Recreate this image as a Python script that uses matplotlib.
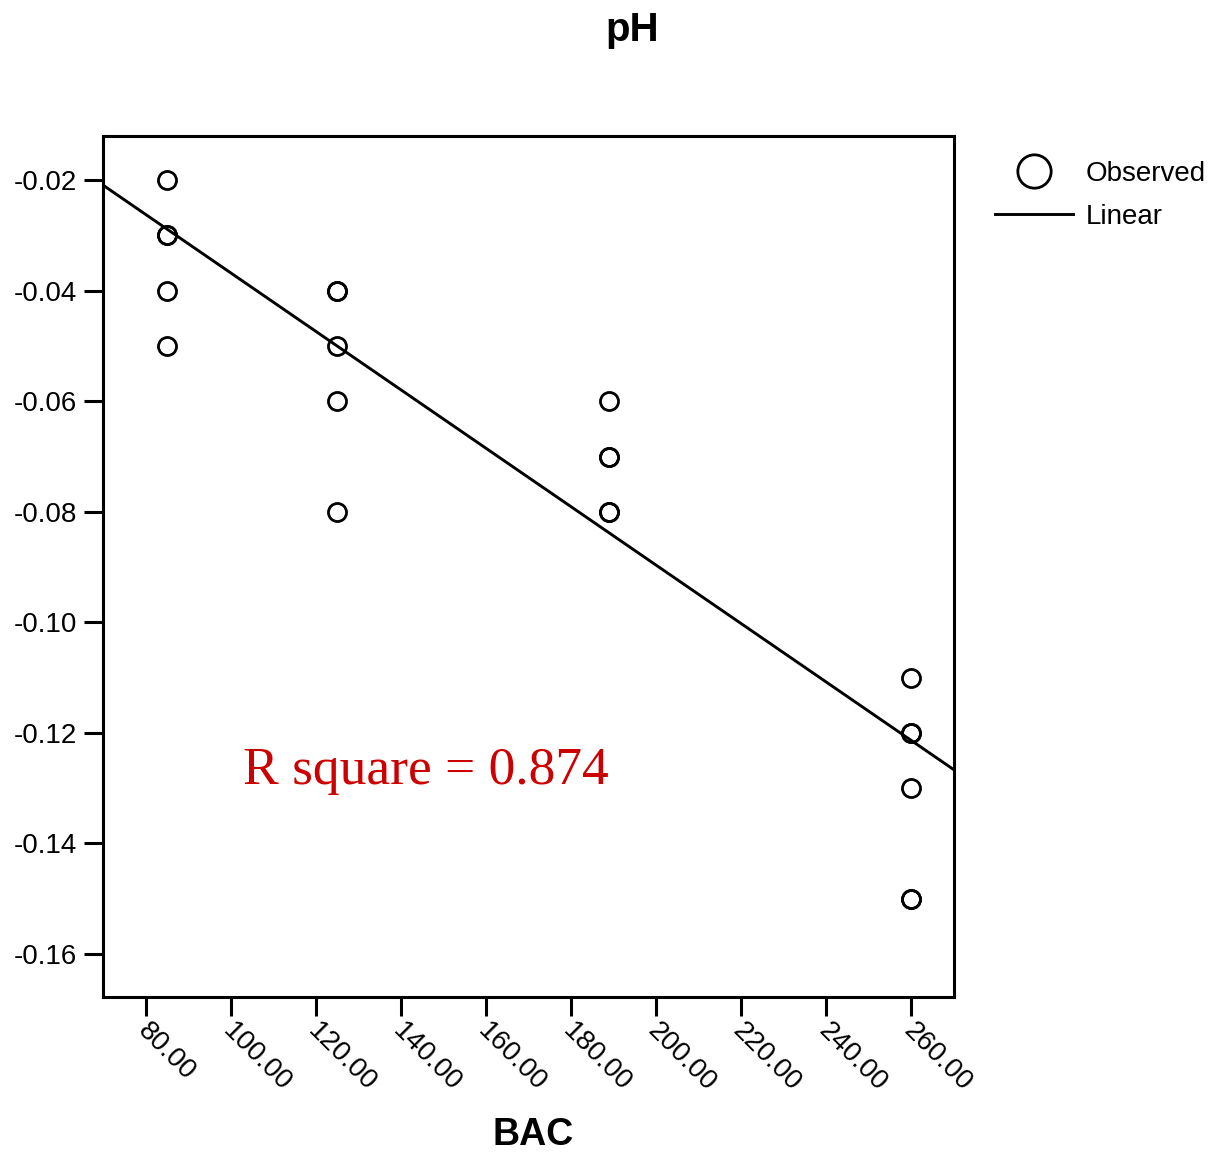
import matplotlib
matplotlib.use("Agg")
import matplotlib.pyplot as plt
from matplotlib.lines import Line2D
from matplotlib.transforms import ScaledTranslation
import numpy as np

plt.rcParams['font.family'] = ['Liberation Sans', 'DejaVu Sans']
plt.rcParams['axes.unicode_minus'] = False

# Observed data (BAC vs pH change); duplicates appear as bolder circles
bac = [85, 85, 85, 85, 85,
       125, 125, 125, 125, 125,
       189, 189, 189, 189, 189,
       260, 260, 260, 260, 260, 260]
ph = [-0.02, -0.03, -0.03, -0.04, -0.05,
      -0.04, -0.04, -0.05, -0.06, -0.08,
      -0.06, -0.07, -0.07, -0.08, -0.08,
      -0.11, -0.12, -0.12, -0.13, -0.15, -0.15]

# Linear fit coefficients
fit_intercept = 0.01614
fit_slope = -0.000529
r_square = 0.874

x_ticks = [80, 100, 120, 140, 160, 180, 200, 220, 240, 260]
y_ticks = [-0.16, -0.14, -0.12, -0.10, -0.08, -0.06, -0.04, -0.02]

W, H = 1211, 1152
fig = plt.figure(figsize=(W / 100, H / 100), dpi=100)
ax = fig.add_axes([103 / W, 155 / H, 851 / W, 861 / H])

xlim = (70, 270)
ylim = (-0.1678, -0.012)

xs = np.array(xlim, dtype=float)
ax.plot(xs, fit_intercept + fit_slope * xs, color='black', lw=2.1, zorder=2)
ax.plot(bac, ph, ls='none', marker='o', ms=13, mfc='none', mec='black',
        mew=2.0, zorder=3)

ax.set_xlim(*xlim)
ax.set_ylim(*ylim)
ax.set_xticks(x_ticks)
ax.set_yticks(y_ticks)
ax.set_xticklabels([f"{v:.2f}" for v in x_ticks], rotation=-45,
                   ha='left', va='top', rotation_mode='anchor')
ax.set_yticklabels([f"{v:.2f}" for v in y_ticks])
ax.tick_params(axis='both', direction='out', length=13.5, width=2.2,
               labelsize=20, color='black', labelcolor='black')
ax.tick_params(axis='y', pad=5)
ax.tick_params(axis='x', pad=4)
offset = ScaledTranslation(5 / 100, 3 / 100, fig.dpi_scale_trans)
for lab in ax.get_xticklabels():
    lab.set_transform(lab.get_transform() + offset)
for sp in ax.spines.values():
    sp.set_linewidth(2.2)
    sp.set_color('black')

ax.text(0.1645, 0.263, f"R square = {r_square:.3f}", transform=ax.transAxes,
        va='center', ha='left', color='#cc0000', fontsize=38.5,
        family=['Liberation Serif', 'DejaVu Serif'])

fig.text(632 / W, 1 - 30 / H, 'pH', ha='center', va='center',
         fontweight='bold', fontsize=29)
fig.text(533 / W, 1 - 1135 / H, 'BAC', ha='center', va='center',
         fontweight='bold', fontsize=27)

handles = [
    Line2D([], [], ls='none', marker='o', ms=24, mfc='none', mec='black', mew=2),
    Line2D([], [], color='black', lw=2.1),
]
fig.legend(handles, ['Observed', 'Linear'], loc='upper left',
           bbox_to_anchor=(995 / W, 1 - 161 / H), frameon=False,
           fontsize=20, handlelength=2.8, handletextpad=0.45,
           labelspacing=0.62, borderpad=0, borderaxespad=0)

fig.savefig('out.png', dpi=100)
